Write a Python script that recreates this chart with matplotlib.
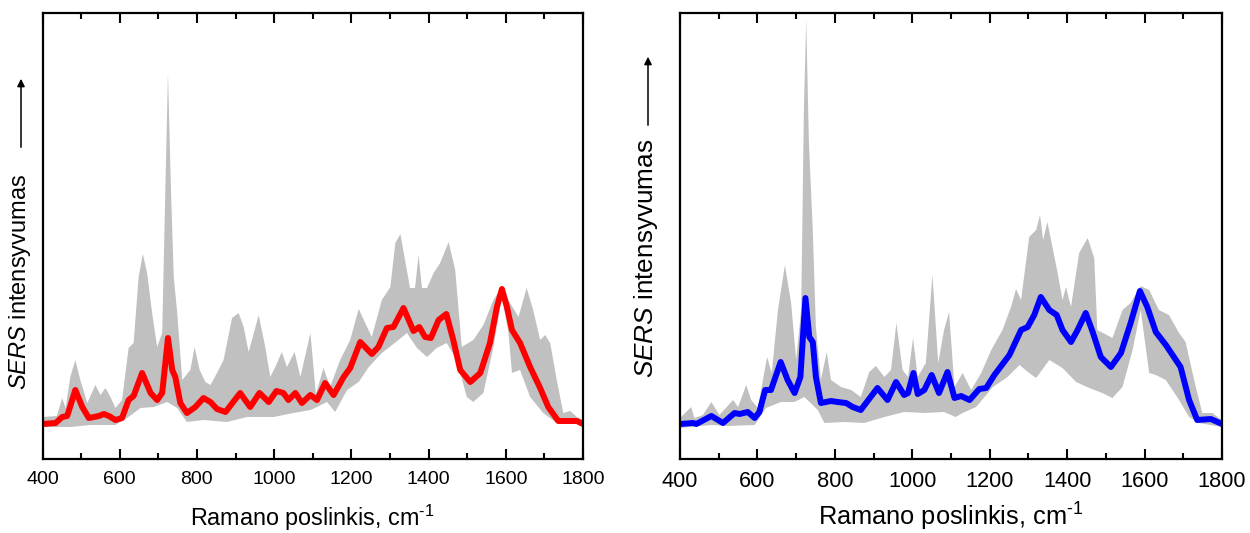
import matplotlib
matplotlib.use('Agg')
import matplotlib.pyplot as plt
from matplotlib.patches import FancyArrowPatch
from matplotlib.ticker import MultipleLocator

plt.rcParams['font.family'] = ['Liberation Sans', 'DejaVu Sans']
plt.rcParams['mathtext.fontset'] = 'custom'
plt.rcParams['mathtext.rm'] = 'Liberation Sans'
plt.rcParams['mathtext.it'] = 'Liberation Sans:italic'

## left panel data (red mean + gray range)
left_mean_x = [400, 434, 451, 464, 485, 503, 520, 546, 559, 572, 589, 606, 623, 636, 658, 680, 697, 710, 725, 736,
               744, 757, 774, 796, 817, 835, 852, 874, 912, 938, 962, 986, 1006, 1024, 1037, 1055, 1072, 1094, 1111, 1132,
               1154, 1180, 1197, 1223, 1253, 1270, 1292, 1309, 1335, 1361, 1376, 1391, 1406, 1426, 1446, 1464, 1482, 1508, 1534, 1559,
               1577, 1590, 1603, 1616, 1637, 1663, 1689, 1710, 1736, 1766, 1784, 1800]
left_mean_y = [25, 26, 32, 33, 59, 42, 31, 33, 35, 33, 29, 31, 49, 53, 76, 56, 49, 56, 111, 79,
               72, 46, 36, 42, 51, 47, 40, 37, 56, 42, 56, 47, 58, 56, 49, 56, 46, 54, 49, 66,
               54, 72, 81, 107, 95, 102, 121, 122, 141, 118, 122, 112, 111, 129, 135, 109, 79, 67, 76, 106,
               142, 160, 142, 119, 106, 82, 61, 42, 28, 28, 28, 25]

left_up_x = [400, 437, 451, 460, 472, 485, 498, 516, 537, 550, 563, 576, 589, 606, 623, 636, 649, 660, 671, 684,
             697, 710, 718, 725, 733, 740, 749, 762, 783, 794, 807, 822, 835, 852, 869, 891, 908, 921, 934, 960,
             977, 990, 1003, 1020, 1033, 1053, 1068, 1094, 1108, 1128, 1145, 1171, 1197, 1219, 1236, 1253, 1279, 1301, 1314, 1327,
             1339, 1352, 1365, 1374, 1383, 1396, 1413, 1430, 1452, 1469, 1486, 1516, 1542, 1568, 1590, 1611, 1633, 1654, 1671, 1689,
             1702, 1715, 1732, 1749, 1767, 1784, 1800]
left_up_y = [32, 33, 51, 41, 72, 89, 69, 46, 64, 54, 61, 52, 41, 49, 101, 106, 172, 195, 176, 136,
             102, 116, 256, 376, 256, 172, 136, 69, 79, 102, 79, 67, 64, 76, 89, 131, 136, 122, 97, 134,
             102, 72, 82, 97, 82, 97, 72, 116, 55, 81, 62, 89, 109, 140, 126, 112, 149, 162, 206, 215,
             189, 161, 161, 194, 161, 161, 176, 186, 207, 179, 102, 109, 124, 149, 162, 146, 132, 161, 139, 109,
             114, 106, 69, 36, 38, 32, 29]

left_low_x = [400, 472, 524, 589, 619, 654, 688, 723, 749, 774, 817, 878, 930, 999, 1050, 1094, 1111, 1137, 1158, 1189,
              1219, 1245, 1279, 1309, 1344, 1370, 1396, 1421, 1447, 1473, 1499, 1516, 1542, 1568, 1590, 1607, 1616, 1637, 1663, 1697,
              1732, 1800]
left_low_y = [22, 22, 24, 24, 31, 41, 42, 47, 41, 27, 29, 27, 32, 32, 36, 39, 42, 47, 37, 59,
              67, 82, 96, 105, 116, 101, 92, 101, 106, 89, 52, 47, 56, 102, 152, 116, 76, 79, 52, 36,
              26, 25]

## right panel data (blue mean + gray range)
right_mean_x = [400, 434, 442, 481, 511, 541, 554, 575, 593, 605, 620, 635, 660, 678, 696, 711, 724, 734, 743, 751,
                764, 790, 807, 829, 846, 867, 910, 936, 958, 979, 989, 1003, 1014, 1031, 1050, 1069, 1091, 1109, 1126, 1148,
                1173, 1191, 1212, 1251, 1281, 1298, 1315, 1332, 1354, 1373, 1388, 1410, 1427, 1448, 1466, 1487, 1513, 1539, 1564, 1588,
                1607, 1629, 1655, 1693, 1715, 1736, 1771, 1800]
right_mean_y = [25, 26, 25, 33, 26, 36, 35, 37, 31, 37, 59, 59, 87, 69, 56, 72, 151, 112, 107, 72,
                46, 48, 47, 46, 42, 39, 61, 49, 67, 54, 56, 76, 55, 59, 74, 56, 77, 51, 53, 49,
                60, 61, 74, 94, 119, 122, 134, 152, 139, 134, 119, 107, 119, 136, 117, 92, 82, 96, 126, 158,
                142, 117, 104, 82, 49, 29, 30, 25]

right_up_x = [400, 429, 437, 459, 481, 502, 537, 550, 571, 584, 601, 625, 637, 653, 671, 687, 700, 713, 720, 726,
              733, 743, 751, 764, 779, 790, 816, 842, 867, 889, 906, 928, 945, 959, 975, 989, 1002, 1014, 1035, 1052,
              1067, 1082, 1095, 1109, 1130, 1152, 1178, 1204, 1233, 1255, 1268, 1281, 1302, 1320, 1330, 1338, 1349, 1362, 1375, 1388,
              1397, 1410, 1431, 1453, 1470, 1478, 1517, 1543, 1564, 1590, 1612, 1637, 1663, 1689, 1706, 1728, 1749, 1775, 1800]
right_up_y = [31, 42, 31, 34, 47, 34, 49, 42, 64, 49, 41, 92, 76, 139, 184, 146, 89, 139, 339, 429,
              306, 219, 122, 69, 97, 69, 62, 59, 52, 77, 83, 72, 79, 126, 79, 72, 111, 72, 86, 174,
              86, 119, 137, 62, 76, 59, 76, 99, 119, 142, 160, 149, 212, 219, 234, 209, 227, 202, 177, 149,
              162, 142, 196, 211, 191, 119, 111, 139, 146, 163, 159, 139, 134, 116, 107, 69, 36, 36, 29]

right_low_x = [400, 481, 524, 593, 622, 661, 696, 721, 756, 773, 825, 876, 928, 979, 1031, 1082, 1112, 1130, 1165, 1208,
               1246, 1277, 1302, 1320, 1354, 1388, 1423, 1457, 1491, 1517, 1543, 1569, 1590, 1612, 1629, 1655, 1689, 1715, 1741, 1800]
right_low_y = [21, 24, 23, 24, 41, 47, 47, 52, 39, 26, 27, 26, 32, 37, 36, 37, 32, 36, 42, 62,
               72, 84, 76, 71, 89, 81, 67, 61, 56, 51, 62, 99, 139, 76, 74, 69, 49, 32, 26, 22]

W, H = 1250, 533
fig = plt.figure(figsize=(W / 100, H / 100), dpi=100)


def px_box(x0, y_top, w, h):
    # axes rectangle given in pixels (top-left origin)
    return [x0 / W, 1 - (y_top + h) / H, w / W, h / H]


def draw_panel(ax, up_x, up_y, low_x, low_y, mean_x, mean_y, color, ylim, fs_tick, fs_label, tick_pad, xlab_pad):
    poly_x = list(up_x) + list(low_x[::-1])
    poly_y = list(up_y) + list(low_y[::-1])
    ax.fill(poly_x, poly_y, color='#c0c0c0', lw=0)
    ax.plot(mean_x, mean_y, color=color, lw=4.3, solid_joinstyle='round', solid_capstyle='round')
    ax.set_xlim(400, 1800)
    ax.set_ylim(*ylim)
    ax.xaxis.set_major_locator(MultipleLocator(200))
    ax.xaxis.set_minor_locator(MultipleLocator(100))
    ax.set_yticks([])
    ax.tick_params(axis='x', which='both', direction='in', top=True, bottom=True, width=1.5,
                   labelsize=fs_tick, pad=tick_pad)
    ax.tick_params(axis='x', which='major', length=7)
    ax.tick_params(axis='x', which='minor', length=4)
    for s in ax.spines.values():
        s.set_linewidth(1.6)
    ax.set_xlabel(r'Ramano poslinkis, cm$^{\text{-}1}$', fontsize=fs_label, labelpad=xlab_pad)


def y_label(x_px, yc_px, arrow_x, arrow_from, arrow_to, fs):
    fig.text(x_px / W, 1 - yc_px / H, r'$\mathit{SERS}$ intensyvumas', rotation=90,
             ha='center', va='center', fontsize=fs)
    fig.add_artist(FancyArrowPatch(
        (arrow_x / W, 1 - arrow_from / H), (arrow_x / W, 1 - arrow_to / H),
        transform=fig.transFigure, arrowstyle='-|>', color='k', lw=1.1, mutation_scale=11))


ax1 = fig.add_axes(px_box(42.5, 13, 540.5, 445.5))
draw_panel(ax1, left_up_x, left_up_y, left_low_x, left_low_y, left_mean_x, left_mean_y,
           '#ff0000', (-9.5, 436), 14, 16.8, 8.8, 10.5)
y_label(20.5, 281.5, 21, 150, 76, 17)

ax2 = fig.add_axes(px_box(680, 12.5, 542, 446))
draw_panel(ax2, right_up_x, right_up_y, right_low_x, right_low_y, right_mean_x, right_mean_y,
           '#0000ff', (-9.5, 436.5), 15.7, 18.3, 9.0, 6.0)
y_label(645.5, 258.5, 648, 128, 54, 18.8)

plt.savefig('out.png', dpi=100)
